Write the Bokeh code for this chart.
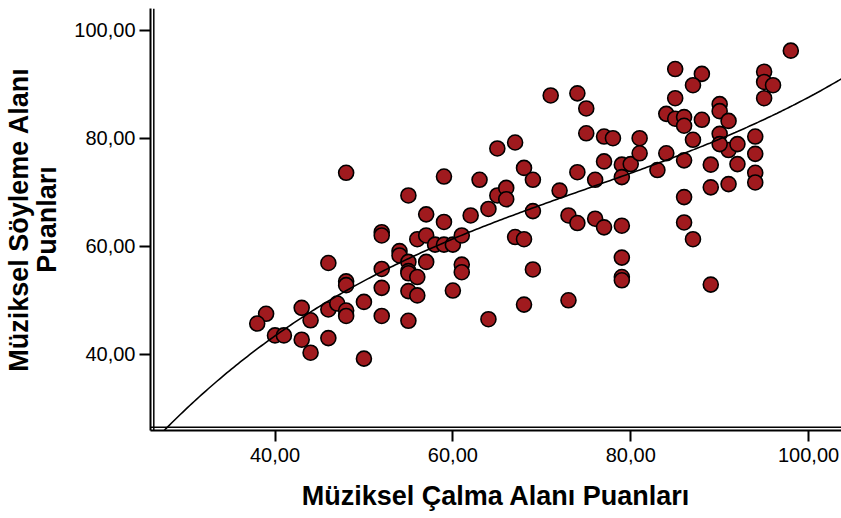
import numpy as np
from bokeh.plotting import figure
from bokeh.models import Range1d, FixedTicker, Span
from bokeh.embed import file_html
from bokeh.resources import INLINE

# --- data ---
calma = [48, 39, 38, 40, 41, 43, 44, 43, 44, 46, 48, 48, 46, 47, 48, 48, 50, 46, 50,
         52, 52, 52, 52, 52, 57, 59, 62, 64, 69, 73, 74, 76, 77, 79,
         54, 54, 55, 55, 55, 56, 57, 56, 57, 58, 59, 60, 61, 61, 61, 60, 55, 56, 55, 64,
         67, 68, 69, 68, 73, 79, 79, 79, 86, 87, 89,
         71, 74, 75, 75, 77, 78, 65, 67, 68, 69, 59, 63, 55, 65, 66, 66, 72, 74, 76, 77,
         81, 79, 80, 81, 79, 83, 84, 86, 86, 87, 89, 89, 91, 92, 91, 92, 90, 90,
         94, 94, 94, 94, 85, 88, 87, 85, 84, 85, 86, 86, 88, 90, 90, 91, 95, 95, 96, 95, 98]
soyleme = [73.6, 47.5, 45.7, 43.5, 43.5, 48.6, 46.3, 42.7, 40.3, 56.9, 53.5, 52.8, 48.3, 49.4, 48.1, 47.1, 49.7, 43.0, 39.2,
           62.6, 62.0, 55.8, 52.3, 47.1, 65.9, 64.5, 65.7, 66.9, 66.5, 65.7, 64.3, 65.1, 63.5, 63.8,
           59.1, 58.3, 57.1, 55.4, 55.0, 54.3, 57.1, 61.3, 62.0, 60.3, 60.3, 60.3, 62.0, 56.6, 55.2, 51.8, 51.7, 50.9, 46.2, 46.5,
           61.7, 61.3, 55.7, 49.2, 50.0, 57.9, 54.3, 53.7, 64.4, 61.3, 52.9,
           87.9, 88.3, 85.5, 80.9, 80.3, 80.0, 78.1, 79.2, 74.5, 72.3, 72.9, 72.3, 69.4, 69.4, 70.8, 68.7, 70.3, 73.7, 72.3, 75.7,
           80.0, 75.1, 75.2, 77.2, 72.8, 74.1, 77.2, 75.9, 69.1, 79.7, 75.1, 70.9, 71.5, 75.2, 77.8, 78.9, 80.8, 78.9,
           80.3, 77.1, 73.6, 71.8, 92.8, 91.9, 89.8, 87.4, 84.5, 83.6, 83.9, 82.3, 83.4, 86.3, 85.0, 83.2, 92.3, 90.4, 89.8, 87.4, 96.2]

x_ticks = [40, 60, 80, 100]
x_tick_labels = ["40,00", "60,00", "80,00", "100,00"]
y_ticks = [40, 60, 80, 100]
y_tick_labels = ["40,00", "60,00", "80,00", "100,00"]

x_title = "Müziksel Çalma Alanı Puanları"
y_title = "Müziksel Söyleme Alanı\nPuanları"

X0, X1 = 26.0, 103.7
Y0, Y1 = 25.9, 104.0

p = figure(width=841, height=518, output_backend="svg", toolbar_location=None,
           x_range=Range1d(X0, X1), y_range=Range1d(Y0, Y1),
           min_border_left=150, min_border_right=0, min_border_top=8, min_border_bottom=88)
p.outline_line_color = None
p.grid.visible = False
p.background_fill_color = "white"

# cubic fit line computed from the data
coef = np.polyfit(np.array(calma, float), np.array(soyleme, float), 3)
xf = np.linspace(X0, X1, 300)
yf = np.polyval(coef, xf)

p.scatter(calma, soyleme, size=15, fill_color="#A01A1E", line_color="black", line_width=1.6)
p.line(xf, yf, line_color="black", line_width=1.6)

# inner lines of the double axes
p.add_layout(Span(location=X0 + 3.3 / 8.89, dimension="height", line_color="black", line_width=1.5))
p.add_layout(Span(location=Y0 + 3.3 / 5.40, dimension="width", line_color="black", line_width=1.5))

for ax, ticks, labels in ((p.xaxis[0], x_ticks, x_tick_labels), (p.yaxis[0], y_ticks, y_tick_labels)):
    ax.ticker = FixedTicker(ticks=ticks)
    ax.major_label_overrides = {t: l for t, l in zip(ticks, labels)}
    ax.minor_tick_line_color = None
    ax.major_tick_in = 0
    ax.major_tick_out = 11
    ax.major_tick_line_width = 2
    ax.axis_line_width = 2
    ax.axis_line_color = "black"
    ax.major_tick_line_color = "black"
    ax.major_label_text_font = "Liberation Sans"
    ax.major_label_text_font_size = "20px"
    ax.major_label_text_color = "black"
    ax.axis_label_text_font = "Liberation Sans"
    ax.axis_label_text_font_style = "bold"
    ax.axis_label_text_font_size = "27px"
    ax.axis_label_text_color = "black"
    ax.axis_label_text_line_height = 0.93

p.xaxis.axis_label = x_title
p.yaxis.axis_label = y_title
p.xaxis.major_label_standoff = 6
p.xaxis.axis_label_standoff = 16
p.yaxis.major_label_standoff = 4
p.yaxis.axis_label_standoff = 9
p.yaxis.major_label_orientation = "horizontal"

open("out.html", "w").write(file_html(p, INLINE))
